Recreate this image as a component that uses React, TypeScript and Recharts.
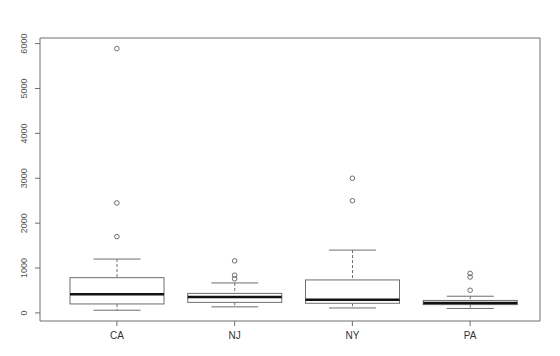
import React from 'react';
import { ComposedChart, Bar, Line, XAxis, YAxis } from 'recharts';

const states = ['CA', 'NJ', 'NY', 'PA'];
const whiskerLow = [60, 135, 110, 100];
const q1 = [200, 235, 215, 185];
const median = [415, 355, 295, 220];
const q3 = [785, 435, 735, 278];
const whiskerHigh = [1200, 668, 1400, 372];
// outliers per state, up to three each
const outlierA = [5890, 1160, 3000, 880];
const outlierB = [2450, 840, 2500, 800];
const outlierC = [1700, 760, null, 505];
const yTicks = [0, 1000, 2000, 3000, 4000, 5000, 6000];

const data = states.map((s, i) => ({
  state: s,
  low: whiskerLow[i],
  q1: q1[i],
  median: median[i],
  q3: q3[i],
  high: whiskerHigh[i],
  oA: outlierA[i],
  oB: outlierB[i],
  oC: outlierC[i],
}));

const LINE = '#6e6e6e';
const FONT = '"Liberation Sans", Arial, sans-serif';

const BoxShape = (props: any) => {
  const { x, y, width, height, payload } = props;
  const top = Math.min(y, y + height);
  const h = Math.abs(height);
  const k = h / (payload.high - payload.low);
  const py = (v: number) => top + (payload.high - v) * k;
  const cx = x + width / 2;
  const cap = width / 4;
  return (
    <g>
      <line x1={cx} x2={cx} y1={py(payload.high)} y2={py(payload.q3)} stroke={LINE} strokeDasharray="3 2" />
      <line x1={cx} x2={cx} y1={py(payload.q1)} y2={py(payload.low)} stroke={LINE} strokeDasharray="3 2" />
      <line x1={cx - cap} x2={cx + cap} y1={py(payload.high)} y2={py(payload.high)} stroke={LINE} />
      <line x1={cx - cap} x2={cx + cap} y1={py(payload.low)} y2={py(payload.low)} stroke={LINE} />
      <rect x={x} y={py(payload.q3)} width={width} height={py(payload.q1) - py(payload.q3)} fill="#fff" stroke={LINE} />
      <line x1={x} x2={x + width} y1={py(payload.median)} y2={py(payload.median)} stroke="#111" strokeWidth={2.5} />
    </g>
  );
};

const YTick = (props: any) => {
  const { y, payload } = props;
  return (
    <text transform={`translate(27, ${y}) rotate(-90)`} textAnchor="middle" fontSize={9} fill="#555" fontFamily={FONT}>
      {payload.value}
    </text>
  );
};

const Outlier = (props: any) => {
  const { cx, cy, value } = props;
  if (value == null || cy == null || isNaN(cy)) return <g key={props.key} />;
  return <circle key={props.key} cx={cx} cy={cy} r={2.3} fill="none" stroke={LINE} />;
};

export default function App() {
  return (
    <div style={{ position: 'absolute', left: 0, top: 0, background: '#fff' }}>
      <ComposedChart width={560} height={356} data={data} margin={{ top: 37, right: 19, bottom: 0, left: 0 }}>
        <XAxis
          dataKey="state"
          padding={{ left: 18, right: 11 }}
          height={35}
          tickSize={5}
          tickMargin={6}
          stroke={LINE}
          tick={{ fontSize: 10, fill: '#333', fontFamily: FONT }}
        />
        <XAxis xAxisId="top" dataKey="state" orientation="top" height={1} tick={false} tickLine={false} stroke={LINE} />
        <YAxis
          type="number"
          domain={[-180, 6125]}
          ticks={yTicks}
          interval={0}
          allowDataOverflow
          width={40}
          tickSize={5}
          stroke={LINE}
          tick={<YTick />}
        />
        <YAxis yAxisId="right" orientation="right" width={1} tick={false} tickLine={false} stroke={LINE} />
        <Bar dataKey={(d: any) => [d.low, d.high]} barSize={94} shape={<BoxShape />} isAnimationActive={false} />
        {['oA', 'oB', 'oC'].map((k) => (
          <Line key={k} dataKey={k} stroke="none" dot={<Outlier />} activeDot={false} isAnimationActive={false} />
        ))}
      </ComposedChart>
    </div>
  );
}
